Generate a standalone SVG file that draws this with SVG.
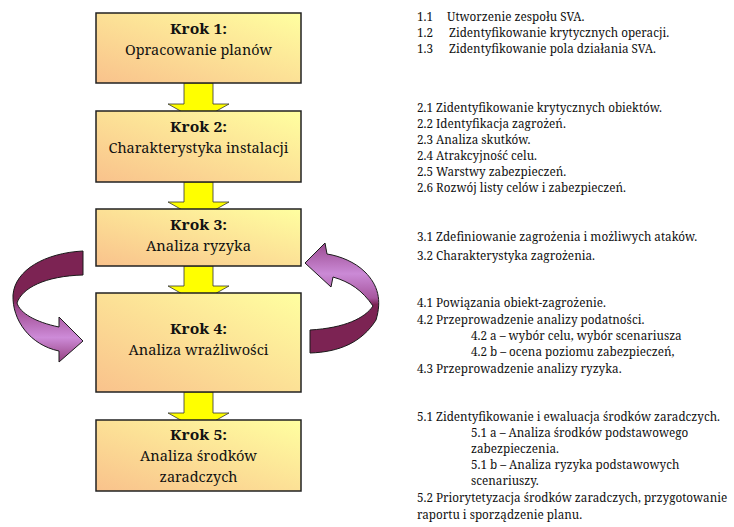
<svg xmlns="http://www.w3.org/2000/svg" width="734" height="527" viewBox="0 0 734 527">
<style>
.box{stroke:#222;stroke-width:1.5;fill:url(#boxg)}
.t{font-family:'Noto Serif','Liberation Serif',serif;font-size:15px;fill:#111;text-anchor:middle}
.b{font-weight:bold}
.n{font-family:'Noto Serif','Liberation Serif',serif;font-size:11.7px;fill:#111}
.ya{fill:#FFFF00;stroke:#333;stroke-width:0.8;stroke-linejoin:miter}
.ca{stroke:#1a1a1a;stroke-width:1;stroke-linejoin:round}
</style>
<defs>
<linearGradient id="boxg" x1="0" y1="1" x2="1" y2="0">
<stop offset="0" stop-color="#F9C28C"/>
<stop offset="1" stop-color="#FFFFA0"/>
</linearGradient>
<linearGradient id="gl" gradientUnits="userSpaceOnUse" x1="0" y1="251" x2="0" y2="362">
<stop offset="0" stop-color="#7C2353"/>
<stop offset="0.44" stop-color="#7C2353"/>
<stop offset="0.52" stop-color="#A04C92"/>
<stop offset="0.78" stop-color="#CD8BD8"/>
<stop offset="1" stop-color="#95407F"/>
</linearGradient>
<linearGradient id="gr" gradientUnits="userSpaceOnUse" x1="0" y1="243" x2="0" y2="353">
<stop offset="0" stop-color="#9A4A90"/>
<stop offset="0.28" stop-color="#CB8AD6"/>
<stop offset="0.5" stop-color="#A7579F"/>
<stop offset="0.56" stop-color="#7C2353"/>
<stop offset="1" stop-color="#7C2353"/>
</linearGradient>
</defs>
<rect width="734" height="527" fill="#fff"/>
<g id="connectors">
<path class="ya" d="M184,83 L213,83 L213,104 L229,104 L198.5,121 L168,104 L184,104 Z"/>
<path class="ya" d="M184,182 L213,182 L213,202 L229,202 L198.5,219 L168,202 L184,202 Z"/>
<path class="ya" d="M184,266 L213,266 L213,286 L229,286 L198.5,303 L168,286 L184,286 Z"/>
<path class="ya" d="M184,392 L213,392 L213,413 L229,413 L198.5,430 L168,413 L184,413 Z"/>
<path class="ca" fill="url(#gl)" d="M83,251 C45,253 15,270 13,295 C12,320 30,345 59,351 L59,362 L83,341 L59,317 L59,327 C35,322 20,313 17,303 C22,288 45,276 83,275 Z"/>
<path class="ca" fill="url(#gr)" d="M310,353 C340,352 362,342 376,320 C382,300 378,285 365,272 C355,262 340,256 327,254 L325,243 L305,263 L331,287 L333,277 C350,282 362,290 373,306 C365,318 345,328 310,330 Z"/>
</g>
<g id="step1">
<rect class="box" x="96" y="13" width="205" height="70"/>
<text class="t b" x="198.5" y="34" textLength="57" lengthAdjust="spacingAndGlyphs">Krok 1:</text>
<text class="t" x="198.5" y="55" textLength="147" lengthAdjust="spacingAndGlyphs">Opracowanie planów</text>
</g>
<g id="step2">
<rect class="box" x="96" y="111" width="205" height="71"/>
<text class="t b" x="198.5" y="132" textLength="57" lengthAdjust="spacingAndGlyphs">Krok 2:</text>
<text class="t" x="198.5" y="153" textLength="180" lengthAdjust="spacingAndGlyphs">Charakterystyka instalacji</text>
</g>
<g id="step3">
<rect class="box" x="96" y="209" width="205" height="57"/>
<text class="t b" x="198.5" y="230" textLength="57" lengthAdjust="spacingAndGlyphs">Krok 3:</text>
<text class="t" x="198.5" y="251" textLength="105" lengthAdjust="spacingAndGlyphs">Analiza ryzyka</text>
</g>
<g id="step4">
<rect class="box" x="96" y="293" width="205" height="99"/>
<text class="t b" x="198.5" y="334" textLength="57" lengthAdjust="spacingAndGlyphs">Krok 4:</text>
<text class="t" x="198.5" y="355" textLength="140" lengthAdjust="spacingAndGlyphs">Analiza wrażliwości</text>
</g>
<g id="step5">
<rect class="box" x="96" y="420" width="205" height="71"/>
<text class="t b" x="198.5" y="440" textLength="57" lengthAdjust="spacingAndGlyphs">Krok 5:</text>
<text class="t" x="198.5" y="461" textLength="117" lengthAdjust="spacingAndGlyphs">Analiza środków</text>
<text class="t" x="198.5" y="482" textLength="78" lengthAdjust="spacingAndGlyphs">zaradczych</text>
</g>
<g id="notes">
<text class="n" y="21"><tspan x="417">1.1</tspan><tspan x="447">Utworzenie zespołu SVA.</tspan></text>
<text class="n" y="37"><tspan x="417">1.2</tspan><tspan x="449">Zidentyfikowanie krytycznych operacji.</tspan></text>
<text class="n" y="53"><tspan x="417">1.3</tspan><tspan x="449">Zidentyfikowanie pola działania SVA.</tspan></text>
<text class="n" x="417" y="112">2.1 Zidentyfikowanie krytycznych obiektów.</text>
<text class="n" x="417" y="128">2.2 Identyfikacja zagrożeń.</text>
<text class="n" x="417" y="144">2.3 Analiza skutków.</text>
<text class="n" x="417" y="160">2.4 Atrakcyjność celu.</text>
<text class="n" x="417" y="176">2.5 Warstwy zabezpieczeń.</text>
<text class="n" x="417" y="192">2.6 Rozwój listy celów i zabezpieczeń.</text>
<text class="n" x="417" y="241">3.1 Zdefiniowanie zagrożenia i możliwych ataków.</text>
<text class="n" x="417" y="260">3.2 Charakterystyka zagrożenia.</text>
<text class="n" x="417" y="307">4.1 Powiązania obiekt-zagrożenie.</text>
<text class="n" x="417" y="324">4.2 Przeprowadzenie analizy podatności.</text>
<text class="n" x="471" y="340">4.2 a – wybór celu, wybór scenariusza</text>
<text class="n" x="471" y="356">4.2 b – ocena poziomu zabezpieczeń,</text>
<text class="n" x="417" y="373">4.3 Przeprowadzenie analizy ryzyka.</text>
<text class="n" x="417" y="421">5.1 Zidentyfikowanie i ewaluacja środków zaradczych.</text>
<text class="n" x="471" y="437">5.1 a – Analiza środków podstawowego</text>
<text class="n" x="471" y="453">zabezpieczenia.</text>
<text class="n" x="471" y="469">5.1 b – Analiza ryzyka podstawowych</text>
<text class="n" x="471" y="485">scenariuszy.</text>
<text class="n" x="417" y="502">5.2 Priorytetyzacja środków zaradczych, przygotowanie</text>
<text class="n" x="417" y="519">raportu i sporządzenie planu.</text>
</g>
</svg>
